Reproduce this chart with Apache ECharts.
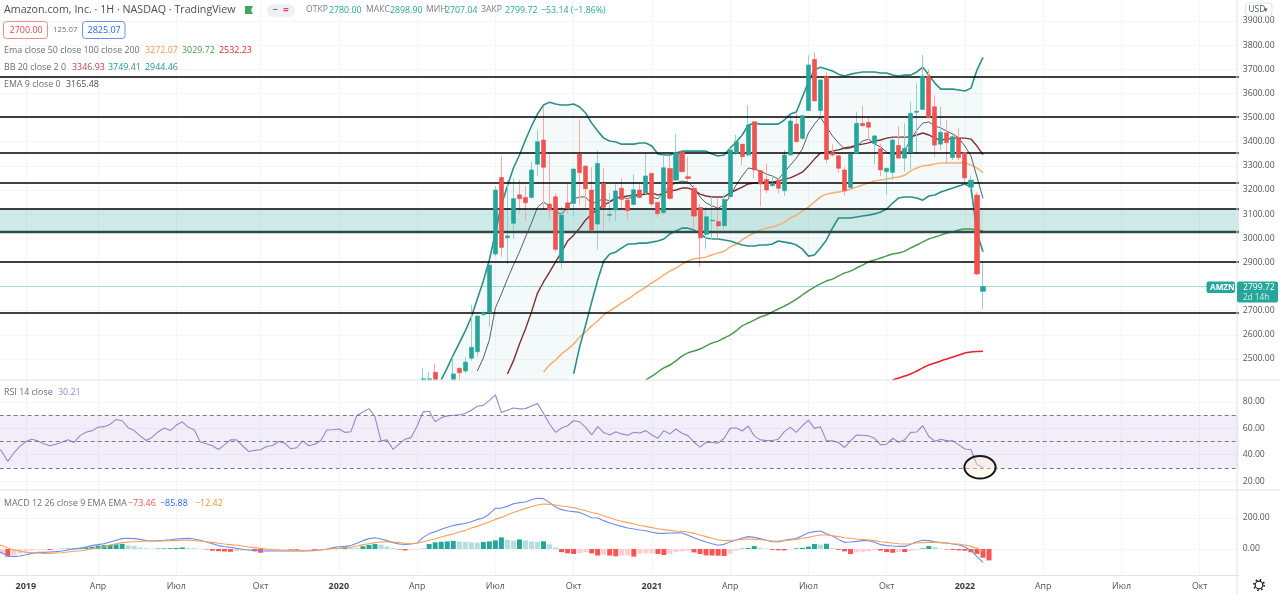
<!DOCTYPE html>
<html><head><meta charset="utf-8">
<style>html,body{margin:0;padding:0;background:#fff;overflow:hidden}#c{width:1280px;height:594px}</style>
<script src="https://cdn.jsdelivr.net/npm/echarts@6/dist/echarts.min.js"></script>
</head><body><div id="c"></div><script>
// weekly bars: index 0 = 2018-12-03, last drawn bar (index 164) = 2022-01-24
const weekCount = 207;
const weeks = Array.from({length: weekCount}, (_, i) => new Date(Date.UTC(2018, 11, 3 + i * 7)).toISOString().slice(0, 10));
const tickIndex = [5, 17, 30, 44, 57, 70, 83, 96, 109, 122, 135, 148, 161, 174, 187, 200];
const tickText = ['2019','Апр','Июл','Окт','2020','Апр','Июл','Окт','2021','Апр','Июл','Окт','2022','Апр','Июл','Окт'];

// candles from index 71: open, close, low, high (the part below the pane is cut at 2413)
const candleStart = 71;
const candles = [
[2413,2418,2413,2461],[2413,2418,2413,2447],[2445,2413,2413,2479],null,null,
[2413,2438,2413,2509],[2461,2443,2413,2465],[2450,2487,2441,2507],[2503,2548,2493,2724],[2530,2678,2509,2678],
[2683,2692,2680,2700],[2692,2889,2634,2889],[2935,3200,2925,3216],[3252,2962,2923,3342],[3002,3010,2893,3240],
[3062,3164,2999,3248],[3180,3164,3103,3241],[3169,3147,3073,3216],[3169,3283,3165,3317],[3307,3400,3258,3448],
[3407,3294,3117,3545],[3142,3117,3082,3352],[3172,2954,2944,3186],[2906,3096,2875,3131],[3147,3124,3103,3225],
[3144,3287,3092,3287],[3349,3272,3138,3492],[3299,3205,3124,3303],[3200,3034,3027,3294],[3059,3310,2954,3363],
[3227,3128,3027,3289],[3095,3099,3069,3189],[3117,3196,3069,3227],[3207,3161,3124,3248],[3158,3114,3075,3161],
[3140,3201,3138,3265],[3200,3169,3165,3227],[3190,3258,3186,3354],[3269,3142,3131,3269],[3149,3102,3087,3151],
[3106,3292,3103,3345],[3289,3165,3158,3341],[3241,3356,3238,3432],[3357,3276,3269,3357],[3255,3248,3238,3338],
[3207,3092,3041,3220],[3128,3002,2882,3144],[3016,3089,2954,3131],[3072,3075,2993,3172],[3069,3051,3000,3165],
[3052,3161,3034,3179],[3172,3366,3165,3372],[3352,3400,3345,3428],[3390,3338,3303,3390],[3345,3469,3338,3552],
[3483,3283,3248,3483],[3280,3225,3131,3280],[3244,3200,3186,3310],[3218,3228,3214,3262],[3241,3207,3186,3248],
[3197,3345,3175,3366],[3345,3486,3345,3511],[3473,3400,3400,3515],[3414,3508,3407,3508],[3529,3718,3529,3759],
[3741,3569,3569,3769],[3529,3656,3506,3656],[3669,3327,3310,3690],[3355,3345,3338,3389],[3342,3290,3272,3345],
[3283,3197,3179,3297],[3210,3349,3210,3349],[3352,3476,3349,3524],[3476,3466,3466,3548],[3480,3460,3407,3504],
[3393,3424,3308,3428],[3371,3283,3258,3393],[3276,3290,3179,3290],[3273,3407,3241,3414],[3385,3332,3331,3465],
[3332,3372,3276,3476],[3356,3518,3287,3566],[3522,3526,3352,3642],[3534,3672,3534,3759],[3672,3501,3501,3700],
[3545,3386,3338,3593],[3390,3439,3366,3545],[3437,3396,3308,3490],[3335,3421,3324,3432],[3417,3334,3324,3455],
[3355,3250,3227,3355],[3212,3241,3190,3260],[3179,2852,2846,3190],[2780,2799.72,2707.04,2898.9]
];

const bbUpperStart = 74;
const bbUpper = [2413,2463,2516,2566,2616,2674,2748,2823,2910,3022,3138,3217,3291,3345,3407,3465,3515,3552,3564,3556,3552,3552,3556,3544,3519,3477,3444,3415,3403,3399,3390,3390,3390,3395,3395,3382,3349,3345,3345,3353,3361,3361,3361,3361,3361,3349,3341,3345,3374,3399,3428,3469,3477,3473,3473,3473,3473,3490,3515,3523,3585,3647,3697,3709,3701,3693,3680,3672,3680,3685,3689,3689,3689,3685,3685,3676,3672,3676,3676,3689,3709,3676,3643,3618,3618,3618,3614,3610,3622,3697,3749.41];
const bbLowerStart = 96;
const bbLower = [2438,2550,2641,2736,2827,2906,2935,2943,2960,2976,2976,2980,2980,2984,2989,2997,3018,3030,3042,3042,3034,3018,3001,2997,2997,2993,2989,2980,2972,2968,2968,2972,2972,2976,2989,2984,2980,2972,2955,2926,2931,2960,2993,3042,3084,3084,3084,3088,3092,3096,3101,3109,3121,3146,3167,3171,3171,3167,3158,3175,3179,3192,3200,3208,3217,3225,3212,3022,2944.46];
const bbBasisStart = 85;
const bbBasis = [2438,2492,2562,2624,2695,2773,2819,2860,2902,2943,2989,3013,3042,3076,3100,3121,3138,3150,3167,3171,3175,3179,3179,3183,3188,3179,3188,3196,3200,3208,3208,3200,3183,3175,3171,3171,3171,3188,3200,3212,3225,3229,3229,3233,3233,3237,3245,3250,3262,3274,3299,3328,3353,3357,3361,3366,3374,3378,3386,3390,3395,3403,3407,3415,3419,3419,3419,3419,3428,3436,3428,3415,3407,3411,3415,3415,3415,3411,3382,3346.93];
const ema9Start = 80;
const ema9 = [2450,2504,2579,2711,2769,2831,2889,2943,3005,3063,3129,3150,3134,3109,3100,3129,3163,3171,3171,3142,3154,3163,3154,3167,3171,3163,3175,3175,3192,3171,3163,3192,3217,3229,3237,3233,3208,3171,3146,3134,3125,3138,3175,3221,3258,3291,3287,3279,3266,3258,3245,3274,3303,3332,3370,3436,3473,3502,3461,3424,3395,3370,3374,3382,3403,3411,3390,3378,3357,3345,3353,3366,3407,3448,3477,3482,3465,3457,3444,3432,3415,3382,3341,3254,3165.48];
const ema50Start = 91;
const ema50 = [2446,2475,2496,2521,2541,2562,2591,2612,2637,2657,2682,2699,2715,2732,2748,2765,2782,2798,2815,2831,2848,2864,2877,2893,2906,2914,2918,2922,2931,2939,2947,2964,2976,2993,3009,3022,3034,3042,3047,3055,3067,3084,3096,3113,3129,3150,3171,3183,3188,3192,3196,3204,3212,3221,3229,3237,3241,3245,3250,3254,3262,3279,3291,3299,3303,3308,3312,3312,3312,3312,3312,3303,3291,3272.07];
const ema100Start = 108;
const ema100 = [2413,2429,2446,2463,2475,2492,2512,2525,2533,2541,2554,2566,2574,2587,2599,2616,2637,2649,2661,2674,2682,2695,2707,2719,2732,2748,2765,2782,2798,2811,2823,2831,2844,2856,2864,2877,2889,2902,2910,2918,2927,2935,2939,2947,2960,2972,2985,2997,3005,3013,3022,3026,3034,3038,3038,3034,3029.72];
const ema200Start = 149;
const ema200 = [2413,2421,2429,2438,2450,2463,2475,2483,2492,2500,2508,2516,2525,2529,2531,2532.23];

const rsi = [47,42.5,35,41.3,46.3,50,51.8,50.5,48.3,46.8,48,49.5,51.3,49.3,54.5,57,58.3,60.8,61.3,63,66.8,65.8,60.5,58.3,54.3,50.8,53.3,57.5,60.3,58.3,62.5,65,60.8,58.8,49.5,48.3,46.8,44,47.5,51.3,51.3,46.8,42.5,43.3,43.8,46.3,47,50,48.8,44.5,45.3,50.5,46.8,48,50.8,58.8,59,59.5,57,57.5,70,72.5,75,68.8,50.5,51.3,44,48,51.8,53,61.8,72.5,73,65,68,69.5,70,70.3,71.3,73.8,76.8,77.5,81.3,85.5,72,73.8,75.5,74.8,75,77,78.8,71.3,63.3,57,60.3,62,65.8,65,60.8,55,61.3,56.8,55,57.5,55.8,54.8,57,56.5,58.3,55,52.5,58.3,55.8,59.5,56.3,54.5,49.5,45.8,49.5,49.3,48.8,52.5,60,60.5,58,61.8,54.3,51.3,50.8,50.8,51.8,57.5,60.8,57,62,66.3,60,61.3,50.5,50.5,49.3,45.5,50.5,55,54.8,54.3,52.5,47.5,48,52.5,49.5,51.3,57,57.3,62,53.8,50.3,51.8,50.5,50.5,47.5,44.3,43.8,32.5,30.21];

const macdLine = [-11,-24,-45,-49,-45,-37,-28,-22,-22,-19,-17,-13,-6,0,4,13,22,28,34,45,56,67,69,67,62,54,52,54,56,60,65,67,69,65,56,45,34,22,15,11,4,-2,-6,-11,-11,-13,-13,-13,-13,-13,-13,-13,-11,-9,-6,-2,9,15,17,22,37,54,67,73,65,54,41,32,30,32,39,75,99,112,127,140,151,159,165,176,191,200,226,262,264,275,292,299,303,318,327,325,299,271,254,245,241,236,219,202,200,183,168,157,146,135,129,123,118,108,101,101,103,105,103,88,73,58,45,34,24,30,47,58,71,80,75,67,56,47,45,56,62,67,86,105,112,116,99,84,62,43,45,49,54,54,43,28,22,19,17,17,30,47,56,54,47,41,39,32,26,15,-11,-49,-85.88];
const macdSignal = [32,22,6,-6,-13,-22,-24,-26,-28,-28,-26,-24,-19,-15,-11,-6,2,6,15,26,34,41,45,47,49,52,52,52,52,54,54,56,58,54,52,47,43,37,32,28,24,19,13,9,4,0,-4,-6,-9,-9,-9,-11,-11,-11,-6,-2,2,4,9,11,19,28,34,41,45,47,45,41,37,34,37,47,56,65,77,88,97,110,120,135,146,161,174,191,204,221,236,249,262,273,284,290,288,284,277,273,267,256,247,236,228,215,202,189,178,170,161,152,146,138,131,125,120,116,114,110,101,90,80,69,60,54,56,58,62,65,62,60,56,52,52,54,58,62,69,75,84,90,90,86,80,73,69,65,62,58,54,47,43,39,34,32,34,39,41,43,43,41,39,34,32,26,17,4,-12.42];
const macdHist = [-32,-30,-49,-40,-30,-20,-10,-6,-4,-6,-2,2,3,4,8,11,14,22,25,27,30,33,24,20,10,5,2,3,4,5,7,10,7,5,2,-3,-11,-14,-16,-18,-14,-10,-7,-14,-24,-15,-9,-5,-2,-4,-5,-3,-2,-5,-3,-1,2,6,11,9,8,18,26,32,28,15,6,-4,-9,-7,-3,2,32,43,47,49,52,48,45,43,41,45,49,56,75,60,55,62,55,48,45,50,30,10,-20,-28,-32,-26,-20,-28,-42,-38,-42,-47,-43,-41,-49,-30,-29,-28,-32,-39,-30,-20,-15,-11,-22,-32,-41,-42,-43,-45,-32,-11,3,6,19,8,3,-6,-8,-9,-3,4,7,15,32,28,34,6,-6,-15,-32,-22,-18,-14,-8,-10,-20,-24,-18,-20,-14,-5,4,19,12,2,-3,-6,-9,-11,-21,-32,-56,-73.46];

const priceTicks = [2400, 4000, 100];      // min, max, step
const rsiTicks = [0, 100, 20];
const macdTicks = [-200, 400, 200];
const userLevels = [3668, 3502, 3353, 3229, 3121, 2902, 2690];
const zoneLevels = [3121, 3026];
const lastClose = 2799.72;
const rsiBounds = [70, 50, 30];

const UP = '#26a69a', DOWN = '#ef5350', UPW = '#93d2cc', DOWNW = '#f6a9a7';
const FONT = '"Open Sans", "Noto Sans", sans-serif';
const GRID = '#f4f5f9', RULE = '#e0e3eb', AX = '#50535e';
const pad = (start, vals) => Array(start).fill(null).concat(vals);

const rows = pad(candleStart, candles);
const wickData = rows.map(r => r ? [r[0], r[1], r[2], r[3]] : '-');
const bodyData = rows.map(r => r ? [r[0], r[1], Math.min(r[0], r[1]), Math.max(r[0], r[1])] : '-');

const upperFull = pad(bbUpperStart, bbUpper);
const lowerFull = pad(bbLowerStart, bbLower);
const bandBase = upperFull.map((u, i) => u == null ? null : (lowerFull[i] == null ? bbUpper[0] : lowerFull[i]));
const bandFill = upperFull.map((u, i) => u == null ? null : u - bandBase[i]);

const histColor = p => {
  const v = p.value, prev = p.dataIndex ? macdHist[p.dataIndex - 1] : v;
  if (v >= 0) return v >= prev ? '#26a69a' : '#b2dfdb';
  return v < prev ? '#ff5252' : '#ffcdd2';
};

const xBase = {type: 'category', data: weeks, boundaryGap: true};
const hiddenX = gi => Object.assign({}, xBase, {gridIndex: gi, show: false});
const isTick = i => tickIndex.includes(i);
const valueAxis = (gi, t, digits) => ({
  type: 'value', gridIndex: gi, position: 'right', min: t[0], max: t[1], interval: t[2],
  axisLine: {show: false}, axisTick: {show: false},
  splitLine: {show: true, showMinLine: false, showMaxLine: false, lineStyle: {color: GRID, width: 1}},
  axisLabel: {showMinLabel: false, showMaxLabel: false, margin: 4, color: AX, fontFamily: FONT, fontSize: 8.6,
    padding: [2, 0, 0, 0], formatter: v => v.toFixed(digits)}
});
const lineS = (name, start, vals, color, width, xi, yi, smooth) => ({
  name, type: 'line', xAxisIndex: xi, yAxisIndex: yi, data: start === null ? vals : pad(start, vals),
  symbol: 'none', showSymbol: false, smooth: smooth || false, connectNulls: false, z: 3,
  lineStyle: {color, width}, silent: true
});

const T = (x, y, text, fill, size, weight) => ({type: 'text', x, y, z: 100, silent: true,
  style: {text, fill, font: `${weight || 'normal'} ${size || 8.9}px ${FONT}`, textVerticalAlign: 'middle'}});
const Box = (x, y, w, h, stroke, fill, r) => ({type: 'rect', z: 99, silent: true,
  shape: {x, y, width: w, height: h, r: r == null ? 3 : r}, style: {fill: fill || '#fff', stroke: stroke || 'none', lineWidth: 1}});
const Rule = (x1, y1, x2, y2) => ({type: 'line', z: 98, silent: true, shape: {x1, y1, x2, y2}, style: {stroke: RULE, lineWidth: 1}});

const gridBase = {left: -7.3, width: 1246.14, outerBoundsMode: 'none', containLabel: false};
const chart = echarts.init(document.getElementById('c'), null, {renderer: 'canvas'});
chart.setOption({
  animation: false, backgroundColor: '#fff',
  grid: [
    Object.assign({top: -3.1, height: 386.2}, gridBase),
    Object.assign({top: 375.7, height: 131.7}, gridBase),
    Object.assign({top: 487, height: 93}, gridBase),
    Object.assign({top: 0, height: 575}, gridBase)
  ],
  xAxis: [hiddenX(0), hiddenX(1), hiddenX(2), Object.assign({}, xBase, {
    gridIndex: 3, position: 'bottom',
    axisLine: {show: true, lineStyle: {color: RULE, width: 1}}, axisTick: {show: false},
    splitLine: {show: true, alignWithLabel: true, interval: i => isTick(i), lineStyle: {color: GRID, width: 1}},
    axisLabel: {interval: i => isTick(i), margin: 7, fontFamily: FONT, fontSize: 8.8, hideOverlap: false,
      formatter: (v, i) => { const t = tickText[tickIndex.indexOf(i)]; return /^\d/.test(t) ? '{y|' + t + '}' : '{m|' + t + '}'; },
      rich: {y: {fontWeight: 'bold', fontFamily: FONT, fontSize: 9, color: '#3a3d48'}, m: {fontFamily: FONT, fontSize: 8.8, color: AX}}}
  })],
  yAxis: [valueAxis(0, priceTicks, 2), valueAxis(1, rsiTicks, 2), valueAxis(2, macdTicks, 2),
    {type: 'value', gridIndex: 3, show: false, min: 0, max: 1}],
  series: [
    {name: 'Zone', type: 'line', xAxisIndex: 0, yAxisIndex: 0, data: [], z: 1, silent: true,
      markArea: {silent: true, itemStyle: {color: 'rgba(38,166,154,0.22)'}, data: [[{yAxis: zoneLevels[0]}, {yAxis: zoneLevels[1]}]]}},
    {name: 'BB base', type: 'line', xAxisIndex: 0, yAxisIndex: 0, data: bandBase, stack: 'bb', symbol: 'none', lineStyle: {width: 0}, z: 1, silent: true},
    {name: 'BB fill', type: 'line', xAxisIndex: 0, yAxisIndex: 0, data: bandFill, stack: 'bb', symbol: 'none', lineStyle: {width: 0}, areaStyle: {color: 'rgba(0,137,123,0.06)'}, z: 1, silent: true},
    lineS('EMA 200', ema200Start, ema200, '#e5202b', 1.6, 0, 0, 0.3),
    lineS('EMA 100', ema100Start, ema100, '#4c9a4f', 1.5, 0, 0, 0.3),
    lineS('EMA 50', ema50Start, ema50, '#f5ae76', 1.5, 0, 0, 0.3),
    lineS('EMA 9', ema9Start, ema9, '#5a5d66', 1, 0, 0),
    lineS('BB basis', bbBasisStart, bbBasis, '#7d2f33', 1.4, 0, 0),
    lineS('BB upper', bbUpperStart, bbUpper, '#2b9188', 1.6, 0, 0),
    lineS('BB lower', bbLowerStart, bbLower, '#2b9188', 1.6, 0, 0),
    {name: 'Wicks', type: 'candlestick', xAxisIndex: 0, yAxisIndex: 0, data: wickData, barWidth: 1, z: 4, silent: true,
      itemStyle: {color: UPW, color0: DOWNW, borderColor: UPW, borderColor0: DOWNW, borderWidth: 1}},
    {name: 'Bodies', type: 'candlestick', xAxisIndex: 0, yAxisIndex: 0, data: bodyData, barWidth: 4.6, z: 5, silent: true,
      itemStyle: {color: UP, color0: DOWN, borderColor: UP, borderColor0: DOWN, borderWidth: 0.6}},
    {name: 'Levels', type: 'line', xAxisIndex: 0, yAxisIndex: 0, data: [], z: 6, silent: true,
      markLine: {silent: true, symbol: 'none', label: {show: false}, animation: false, data: [
        ...userLevels.map(v => ({yAxis: v, lineStyle: {color: '#000', width: 1.6, type: 'solid'}})),
        {yAxis: zoneLevels[1], lineStyle: {color: '#2e4a47', width: 2.4, type: 'solid'}},
        {yAxis: lastClose, lineStyle: {color: '#26a69a', width: 1, type: 'dotted', opacity: 0.75}}
      ]}},
    {name: 'RSI band', type: 'line', xAxisIndex: 1, yAxisIndex: 1, data: [], z: 1, silent: true,
      markArea: {silent: true, itemStyle: {color: 'rgba(126,87,194,0.1)'}, data: [[{yAxis: rsiBounds[0]}, {yAxis: rsiBounds[2]}]]},
      markLine: {silent: true, symbol: 'none', label: {show: false}, data: rsiBounds.map(v => ({yAxis: v})),
        lineStyle: {color: '#787b86', width: 1, type: [4, 3]}}},
    lineS('RSI', null, rsi, '#9a86cc', 1.1, 1, 1),
    {name: 'Hist', type: 'bar', xAxisIndex: 2, yAxisIndex: 2, data: macdHist, barWidth: 5, z: 2, silent: true, itemStyle: {color: histColor}},
    lineS('MACD', null, macdLine, '#6d8ee8', 1.1, 2, 2),
    lineS('Signal', null, macdSignal, '#f5a25d', 1.1, 2, 2),
    {name: 'Time', type: 'line', xAxisIndex: 3, yAxisIndex: 3, data: [], silent: true}
  ],
  graphic: {elements: [
    Rule(0, 380, 1280, 380), Rule(0, 490, 1280, 490), Rule(1237, 0, 1237, 594),
    T(4, 10, 'Amazon.com, Inc. · 1H · NASDAQ · TradingView', '#4a4d58', 10.7),
    {type: 'rect', z: 99, silent: true, shape: {x: 245, y: 6, width: 6, height: 8}, style: {fill: '#43a75a'}},
    {type: 'polygon', z: 99, silent: true, shape: {points: [[250, 6], [253, 6], [251, 10], [253, 14], [250, 14]]}, style: {fill: '#43a75a'}},
    Box(267, 4, 28, 13, null, '#f0f1f6', 6.5),
    T(272.5, 10, '−', '#787b86', 10, 'bold'), T(283, 10, '=', '#ec407a', 10, 'bold'),
    T(306, 10, 'ОТКР', '#787b86', 8.6), T(329, 10, '2780.00', UP, 8.8),
    T(366, 10, 'МАКС', '#787b86', 8.6), T(390, 10, '2898.90', UP, 8.8),
    T(426, 10, 'МИН', '#787b86', 8.6), T(445, 10, '2707.04', UP, 8.8),
    T(481, 10, 'ЗАКР', '#787b86', 8.6), T(505, 10, '2799.72', UP, 8.8),
    T(541, 10, '−53.14 (−1.86%)', UP, 8.8),
    Box(3.5, 21.5, 44, 17, '#f08a88'), T(9.5, 30, '2700.00', '#e5484d', 9),
    T(53, 30, '125.07', '#6a6d78', 7.8),
    Box(82.5, 21.5, 42.5, 17, '#6b8fee'), T(87.5, 30, '2825.07', '#2962ff', 9),
    T(4, 50, 'Ema close 50 close 100 close 200', '#6a6d78', 8.9),
    T(145, 50, '3272.07', '#f09a50', 8.9), T(182, 50, '3029.72', '#4c9a4f', 8.9), T(219, 50, '2532.23', '#e5202b', 8.9),
    T(4, 67, 'BB 20 close 2 0', '#6a6d78', 8.9),
    T(72, 67, '3346.93', '#b0484c', 8.9), T(108, 67, '3749.41', '#2b9188', 8.9), T(145, 67, '2944.46', '#2b9188', 8.9),
    T(4, 84, 'EMA 9 close 0', '#6a6d78', 8.9), T(66, 84, '3165.48', '#4a4d58', 8.9),
    T(4, 392, 'RSI 14 close', '#6a6d78', 8.9), T(58, 392, '30.21', '#9a86cc', 8.9),
    T(4, 503, 'MACD 12 26 close 9 EMA EMA', '#6a6d78', 8.9),
    T(128, 503, '−73.46', '#ef5350', 8.9), T(160, 503, '−85.88', '#2962ff', 8.9), T(195, 503, '−12.42', '#f5922f', 8.9),
    Box(1206.5, 281.5, 28.5, 11.5, null, UP, 2), T(1210, 287.3, 'AMZN', '#fff', 8.2, 'bold'),
    Box(1237, 281.5, 41, 21, null, UP, 2), T(1243, 287.3, '2799.72', '#fff', 8.6), T(1243, 297.3, '2d 14h', '#d6f1ee', 8.2),
    Box(1245.5, 3, 26.5, 13, '#e0e3eb', '#fff', 3), T(1248.5, 9.5, 'USD', '#50535e', 8.4),
    T(1263.5, 9.5, '▾', '#50535e', 7),
    {type: 'ellipse', z: 97, silent: true, shape: {cx: 980, cy: 467.3, rx: 15.6, ry: 11.2},
      style: {fill: 'rgba(255,243,205,0.38)', stroke: '#15181d', lineWidth: 2}},
    {type: 'circle', z: 99, silent: true, shape: {cx: 1259, cy: 585, r: 3.8}, style: {fill: 'none', stroke: '#131722', lineWidth: 1.2}},
    {type: 'circle', z: 99, silent: true, shape: {cx: 1259, cy: 585, r: 5.2}, style: {fill: 'none', stroke: '#131722', lineWidth: 1.6, lineDash: [1.6, 2.5]}}
  ]}
});
</script></body></html>
